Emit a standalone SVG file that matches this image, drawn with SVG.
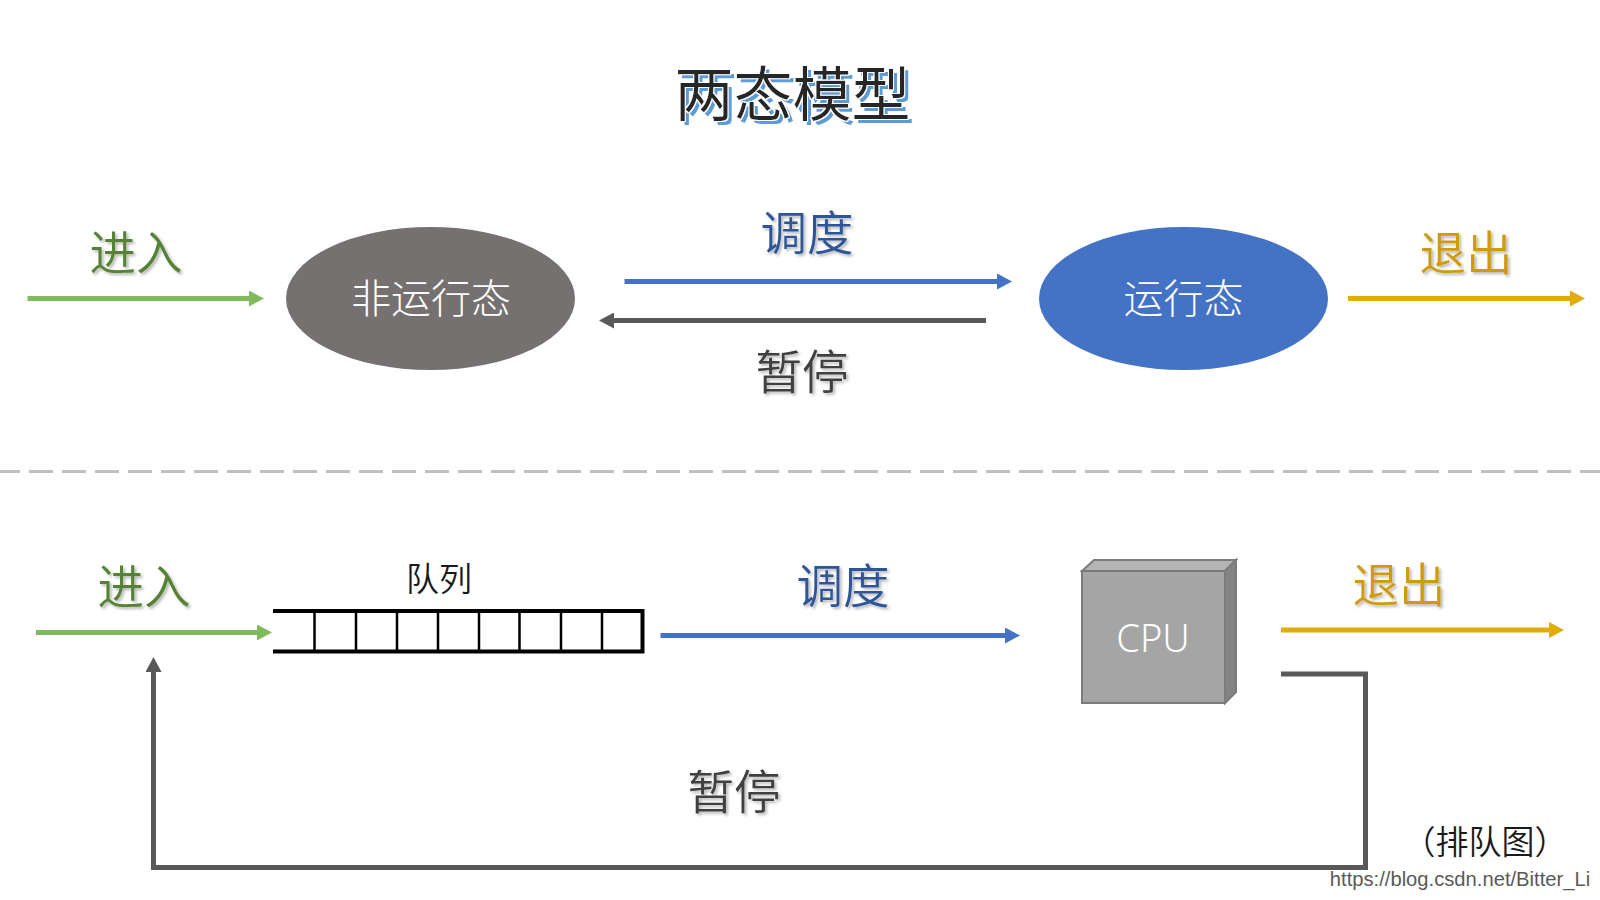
<svg xmlns="http://www.w3.org/2000/svg" width="1600" height="900" viewBox="0 0 1600 900">
<style>
text{font-family:"Noto Sans CJK SC","Noto Sans",sans-serif;text-anchor:middle;font-weight:350}
.big{font-size:46.500px}
.green{fill:#548235}.blue{fill:#2f5597}.dark{fill:#404040}.gold{fill:#d09a10}
.wh{fill:#fff;font-size:40px;font-weight:300}
</style>
<defs>
<filter id="sh" x="-20%" y="-20%" width="140%" height="140%"><feDropShadow dx="2" dy="2" stdDeviation="1.5" flood-color="#000" flood-opacity=".3"/></filter>
<filter id="ttl" x="-5%" y="-10%" width="110%" height="125%">
<feMorphology in="SourceAlpha" operator="dilate" radius="1" result="d"/>
<feFlood flood-color="#fff"/><feComposite in2="d" operator="in" result="w"/>
<feOffset in="SourceAlpha" dx="4" dy="4" result="o"/>
<feFlood flood-color="#5b9bd5"/><feComposite in2="o" operator="in" result="b"/>
<feMerge><feMergeNode in="b"/><feMergeNode in="w"/><feMergeNode in="SourceGraphic"/></feMerge>
</filter>
<marker id="g" markerUnits="userSpaceOnUse" markerWidth="15" markerHeight="16" refX="3" refY="8" orient="auto"><path d="M0 0L15 8L0 16z" fill="#7fbb5c"/></marker>
<marker id="b" markerUnits="userSpaceOnUse" markerWidth="15" markerHeight="16" refX="3" refY="8" orient="auto"><path d="M0 0L15 8L0 16z" fill="#4472c4"/></marker>
<marker id="y" markerUnits="userSpaceOnUse" markerWidth="15" markerHeight="16" refX="3" refY="8" orient="auto"><path d="M0 0L15 8L0 16z" fill="#e2ac06"/></marker>
<marker id="k" markerUnits="userSpaceOnUse" markerWidth="15" markerHeight="16" refX="3" refY="8" orient="auto"><path d="M0 0L15 8L0 16z" fill="#595959"/></marker>
</defs>
<rect width="1600" height="900" fill="#fff"/>
<text id="title" x="792.500" y="116" font-size="59" fill="#262626" filter="url(#ttl)" style="font-weight:400">两态模型</text>
<g id="connectors">
<path d="M27.500 298.500H252" stroke="#7fbb5c" stroke-width="5" fill="none" marker-end="url(#g)"/>
<path d="M624.500 281.500H1000" stroke="#4472c4" stroke-width="5" fill="none" marker-end="url(#b)"/>
<path d="M986 320.500H611" stroke="#595959" stroke-width="5" fill="none" marker-end="url(#k)"/>
<path d="M1348 298.500H1573" stroke="#e2ac06" stroke-width="5" fill="none" marker-end="url(#y)"/>
<path d="M0 471.500H1600" stroke="#bfbfbf" stroke-width="3" stroke-dasharray="24 9" stroke-dashoffset="4" fill="none"/>
<path d="M36 632.500H260" stroke="#7fbb5c" stroke-width="5" fill="none" marker-end="url(#g)"/>
<path d="M660.500 635.500H1008" stroke="#4472c4" stroke-width="5" fill="none" marker-end="url(#b)"/>
<path d="M1281 630H1552" stroke="#e2ac06" stroke-width="5" fill="none" marker-end="url(#y)"/>
<path d="M1281 674H1365.500V867.500H153.500V669" stroke="#595959" stroke-width="5" fill="none" marker-end="url(#k)"/>
</g>
<g id="node-nonrunning"><ellipse cx="430.500" cy="298.500" rx="144.500" ry="71.500" fill="#767171"/><text class="wh" x="431" y="313">非运行态</text></g>
<g id="node-running"><ellipse cx="1183.500" cy="298.500" rx="144.500" ry="71.500" fill="#4472c4"/><text class="wh" x="1183.500" y="313">运行态</text></g>
<g id="labels-top" filter="url(#sh)">
<text class="big green" x="136" y="270">进入</text>
<text class="big blue" x="807" y="250">调度</text>
<text class="big dark" x="802" y="389">暂停</text>
<text class="big gold" x="1466" y="270">退出</text>
</g>
<g id="queue" fill="none" stroke="#000">
<path d="M273 611H642.500V651.500H273" stroke-width="4"/>
<path d="M314.500 611V651M356 611V651M397 611V651M438 611V651M479 611V651M519.500 611V651M561 611V651M602 611V651" stroke-width="2.500"/>
</g>
<text id="queue-label" x="439" y="591" font-size="33" fill="#1a1a1a">队列</text>
<g id="node-cpu">
<path d="M1082 571L1094 560H1236L1225 571z" fill="#b4b4b4" stroke="#7b7b7b" stroke-width="2"/>
<path d="M1225 571L1236 560V692L1225 703z" fill="#838383" stroke="#7b7b7b" stroke-width="2"/>
<rect x="1082" y="571" width="143" height="132" fill="#a5a5a5" stroke="#7b7b7b" stroke-width="2"/>
<text x="1153" y="652" font-size="38" fill="#fff" style="font-family:'Noto Sans','Noto Sans CJK SC',sans-serif;font-weight:300">CPU</text>
</g>
<g id="labels-bottom" filter="url(#sh)">
<text class="big green" x="144" y="604">进入</text>
<text class="big blue" x="843" y="603">调度</text>
<text class="big gold" x="1399" y="602">退出</text>
<text class="big dark" x="734" y="809">暂停</text>
</g>
<text id="caption" x="1485" y="854" font-size="33" fill="#1a1a1a">（排队图）</text>
<text id="watermark" x="1460" y="886" font-size="20.200" fill="#595959" style="font-family:'Liberation Sans',sans-serif">https://blog.csdn.net/Bitter_Li</text>
</svg>
